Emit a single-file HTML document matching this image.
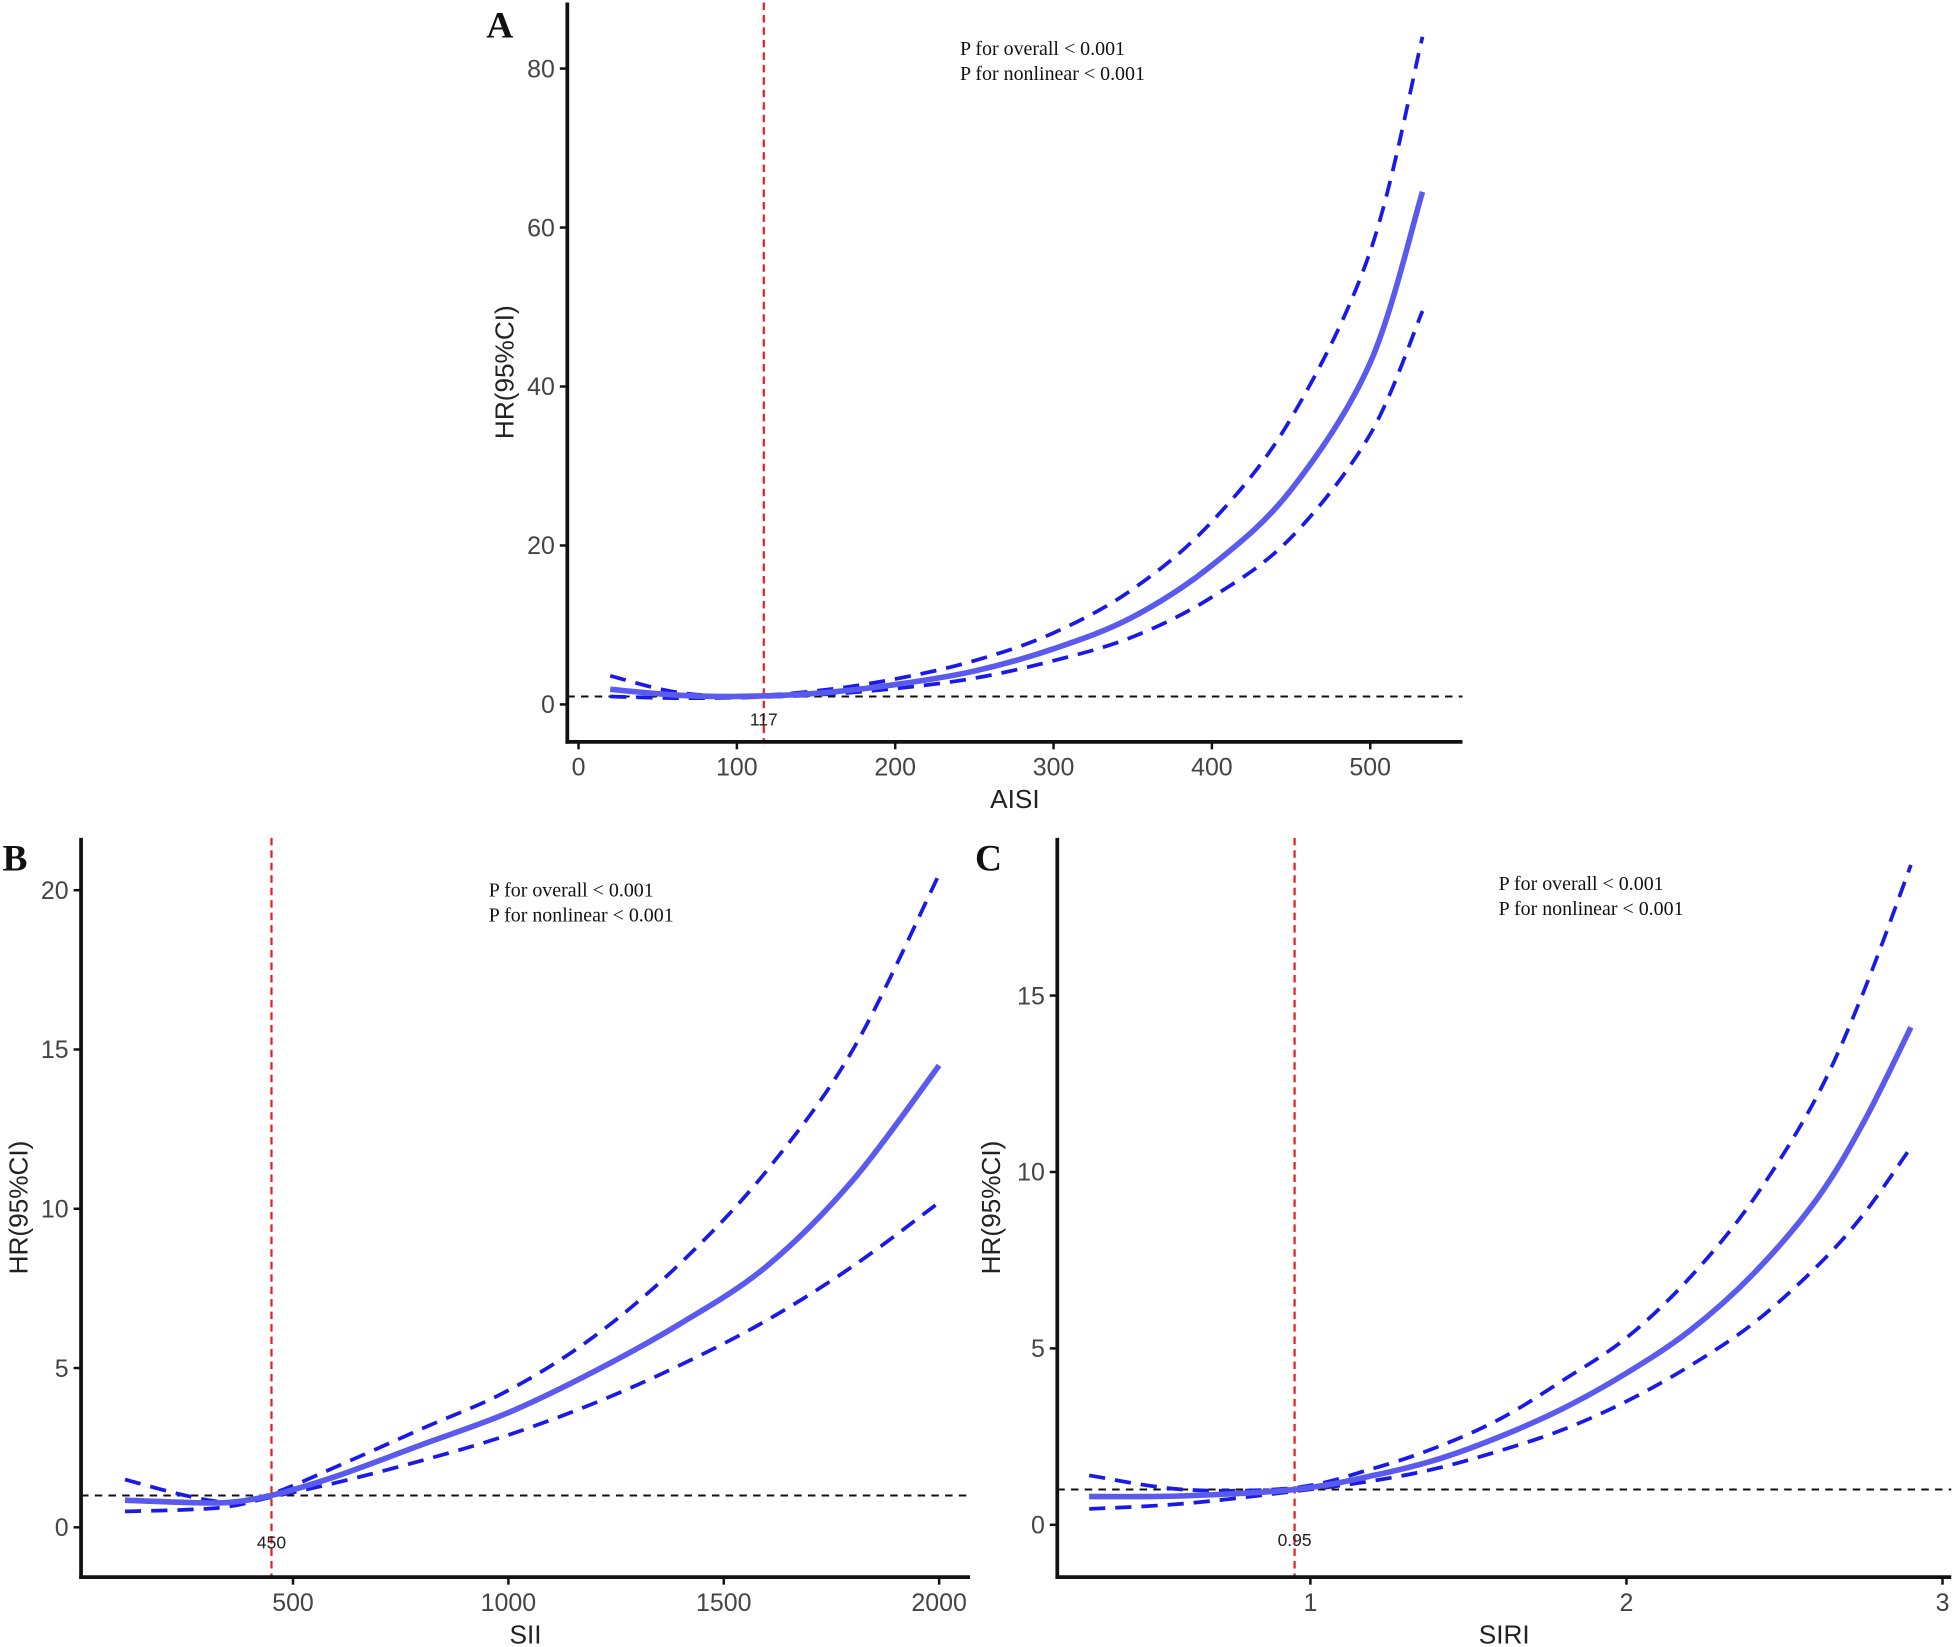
<!DOCTYPE html>
<html><head><meta charset="utf-8"><style>
html,body{margin:0;padding:0;background:#fff}
svg{display:block}
text{font-family:"Liberation Sans",sans-serif;fill:#222}
.tick{font-size:20px;fill:#444}
.ttl{font-size:21px}
.pt{font-family:"Liberation Serif",serif;font-size:16px;fill:#111}
.pl{font-family:"Liberation Serif",serif;font-size:30px;font-weight:bold;fill:#111}
.cut{font-size:14px}
</style></head><body>
<svg id="chart" width="1955" height="1647" viewBox="0 0 1568 1321" xmlns="http://www.w3.org/2000/svg"></svg>
<script>
// Panel A (AISI)
const aX=[20,60,100,150,200,250,300,350,400,450,500,533];
const aMain=[1.9,1.2,1.0,1.4,2.5,4.2,7,11,17.5,27,43,64.5];
const aUp=[3.6,1.6,1.05,1.7,3.2,5.5,9,14.5,23,36,57,84];
const aLo=[1.0,0.8,0.85,1.2,2.0,3.3,5.5,8.5,13.5,21,34,49.5];
const aXTicks=[0,100,200,300,400,500];
const aYTicks=[0,20,40,60,80];
// Panel B (SII)
const bX=[110,250,350,450,600,800,1000,1200,1400,1600,1800,2000];
const bMain=[0.85,0.78,0.78,1.0,1.6,2.6,3.6,4.9,6.4,8.2,10.9,14.5];
const bUp=[1.5,1.0,0.8,1.05,1.9,3.1,4.3,6.0,8.3,11.2,15,20.5];
const bLo=[0.5,0.55,0.65,0.95,1.4,2.1,2.9,3.9,5.1,6.5,8.2,10.2];
const bXTicks=[500,1000,1500,2000];
const bYTicks=[0,5,10,15,20];
// Panel C (SIRI)
const cX=[0.3,0.6,0.95,1.2,1.4,1.6,1.8,2.0,2.2,2.4,2.6,2.75,2.9];
const cMain=[0.8,0.82,1.0,1.4,1.85,2.5,3.3,4.3,5.5,7.1,9.2,11.4,14.1];
const cUp=[1.4,1.0,1.05,1.6,2.2,3.0,4.1,5.3,7.0,9.2,12.1,15.1,18.7];
const cLo=[0.45,0.6,0.95,1.25,1.6,2.1,2.7,3.5,4.5,5.7,7.3,8.8,10.7];
const cXTicks=[1,2,3];
const cYTicks=[0,5,10,15];

const NS="http://www.w3.org/2000/svg";
const svg=document.getElementById('chart');
function el(tag,attrs,parent,txt){const e=document.createElementNS(NS,tag);for(const k in attrs)e.setAttribute(k,attrs[k]);if(txt!==undefined)e.textContent=txt;(parent||svg).appendChild(e);return e;}
function smooth(pts){let d=`M${pts[0][0]},${pts[0][1]}`;for(let i=0;i<pts.length-1;i++){const p0=pts[Math.max(0,i-1)],p1=pts[i],p2=pts[i+1],p3=pts[Math.min(pts.length-1,i+2)];d+=` C${p1[0]+(p2[0]-p0[0])/6},${p1[1]+(p2[1]-p0[1])/6} ${p2[0]-(p3[0]-p1[0])/6},${p2[1]-(p3[1]-p1[1])/6} ${p2[0]},${p2[1]}`;}return d;}

function panel(o){
  const g=el('g',{});
  
  
  const sx=v=>o.x0+(v-o.vx0)*o.kx, sy=v=>o.y0-(v-o.vy0)*o.ky;
  let l=el('line',{x1:o.axL,x2:o.axR,y1:sy(1),y2:sy(1),stroke:'#111','stroke-width':1.6,'stroke-dasharray':'6 5'},g);
  
  l=el('line',{x1:sx(o.cut),x2:sx(o.cut),y1:o.axT,y2:o.axB,stroke:'#e82020','stroke-width':1.8,'stroke-dasharray':'6 4'},g);
  
  let t=el('text',{x:sx(o.cut),y:sy(0)+17,'text-anchor':'middle',class:'cut'},g,o.cutLabel);
  
  [[o.up,'upper-ci'],[o.lo,'lower-ci']].forEach(([arr,n])=>{
    const p=el('path',{d:smooth(o.xs.map((x,i)=>[sx(x),sy(arr[i])])),fill:'none',stroke:'#1a1ae8','stroke-width':3,'stroke-dasharray':'13 8'},g);
    
  });
  const m=el('path',{d:smooth(o.xs.map((x,i)=>[sx(x),sy(o.main[i])])),fill:'none',stroke:'#5a5aee','stroke-width':4.5},g);
  
  l=el('line',{x1:o.axL,x2:o.axL,y1:o.axT,y2:o.axB+1.5,stroke:'#111','stroke-width':3},g);
  
  l=el('line',{x1:o.axL-1.5,x2:o.axR,y1:o.axB,y2:o.axB,stroke:'#111','stroke-width':3},g);
  
  o.xt.forEach(v=>{
    el('line',{x1:sx(v),x2:sx(v),y1:o.axB,y2:o.axB+6,stroke:'#111','stroke-width':2},g);
    const tx=el('text',{x:sx(v),y:o.axB+27,'text-anchor':'middle',class:'tick'},g,v);
    
  });
  o.yt.forEach(v=>{
    el('line',{x1:o.axL-6,x2:o.axL,y1:sy(v),y2:sy(v),stroke:'#111','stroke-width':2},g);
    const tx=el('text',{x:o.axL-10,y:sy(v)+7,'text-anchor':'end',class:'tick'},g,v);
    
  });
  t=el('text',{x:(o.axL+o.axR)/2,y:o.axB+53,'text-anchor':'middle',class:'ttl'},g,o.xTitle);
  
  const yc=(o.axT+o.axB)/2;
  t=el('text',{x:o.yTx,y:yc,'text-anchor':'middle',class:'ttl',transform:`rotate(-90 ${o.yTx} ${yc})`},g,'HR(95%CI)');
  
  t=el('text',{x:o.lx,y:o.ly,class:'pl'},g,o.id);
  
  t=el('text',{x:o.px,y:o.py,class:'pt'},g,'P for overall < 0.001');
  
  t=el('text',{x:o.px,y:o.py+20,class:'pt'},g,'P for nonlinear < 0.001');
  
}
panel({id:'A',xs:aX,main:aMain,up:aUp,lo:aLo,xt:aXTicks,yt:aYTicks,x0:464,vx0:0,kx:1.27,y0:565,vy0:0,ky:6.375,
  axL:455,axR:1173,axT:2,axB:595,cut:117,cutLabel:'117',xTitle:'AISI',yTx:412,lx:390,ly:30,px:770,py:44});
panel({id:'B',xs:bX,main:bMain,up:bUp,lo:bLo,xt:bXTicks,yt:bYTicks,x0:235,vx0:500,kx:0.3455,y0:1225,vy0:0,ky:25.55,
  axL:65,axR:778,axT:672,axB:1265,cut:450,cutLabel:'450',xTitle:'SII',yTx:22,lx:2,ly:698,px:392,py:719});
panel({id:'C',xs:cX,main:cMain,up:cUp,lo:cLo,xt:cXTicks,yt:cYTicks,x0:1051,vx0:1,kx:253.5,y0:1223,vy0:0,ky:28.3,
  axL:848,axR:1565,axT:672,axB:1265,cut:0.95,cutLabel:'0.95',xTitle:'SIRI',yTx:802,lx:782,ly:698,px:1202,py:714});
</script>
</body></html>
